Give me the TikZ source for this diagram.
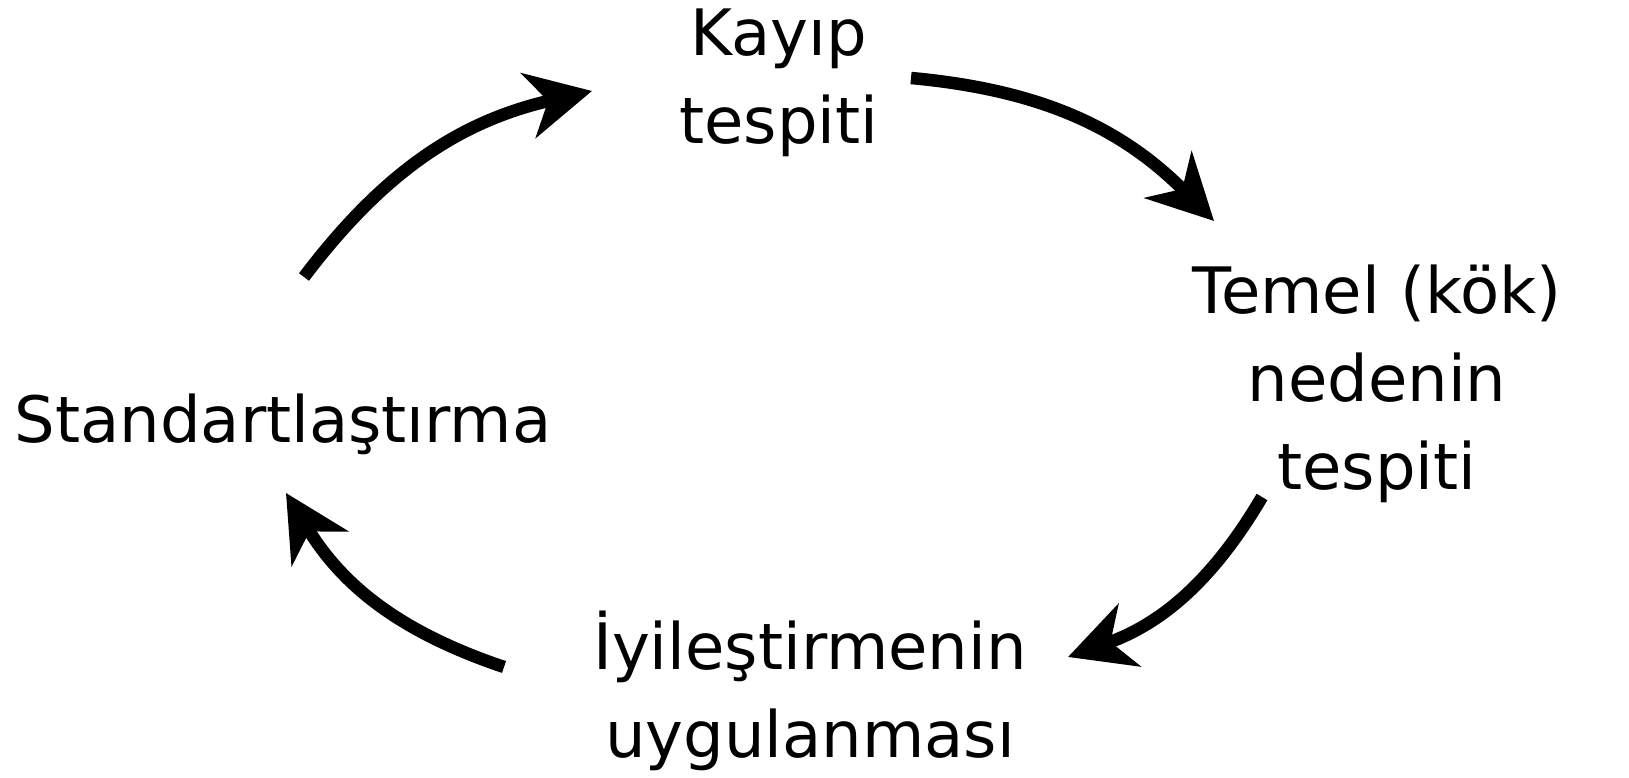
\documentclass[tikz,border=0pt]{standalone}
\usepackage{fontspec}
\setmainfont{DejaVu Sans}
\usetikzlibrary{arrows.meta,positioning,calc}
\tikzstyle{stage} = [align=center, inner sep=0pt, font=\fontsize{64}{88}\selectfont]
\tikzstyle{turn} = [line width=12.5pt, -{Stealth[length=65pt, width=66pt, inset=20pt]}, bend left=20]

\begin{document}
\begin{tikzpicture}[x=1pt, y=1pt]
    \useasboundingbox (0,0) rectangle (1629,778);
    \node[stage] (kayip) at (779,695) {Kayıp\\tespiti};
    \node[stage] (temel) at (1377,394) {Temel (kök)\\nedenin\\tespiti};
    \node[stage] (iyi) at (810,87) {İyileştirmenin\\uygulanması};
    \node[stage] (std) at (283,354) {Standartlaştırma};

    \draw[turn] ([shift={(21,147)}]std.center) to ([shift={(-187,-8)}]kayip.center);
    \draw[turn] ([shift={(132,5)}]kayip.center) to ([shift={(-163,163)}]temel.center);
    \draw[turn] ([shift={(-115,-113)}]temel.center) to ([shift={(258,34)}]iyi.center);
    \draw[turn] ([shift={(-306,24)}]iyi.center) to ([shift={(3,-69)}]std.center);
\end{tikzpicture}
\end{document}
